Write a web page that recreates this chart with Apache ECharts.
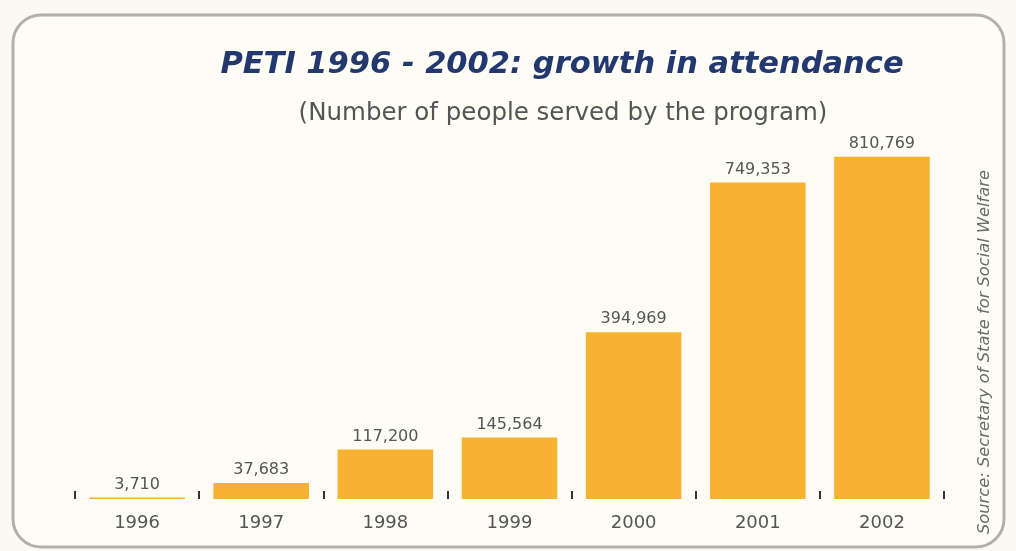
<!DOCTYPE html>
<html>
<head>
<meta charset="utf-8">
<script src="https://cdn.jsdelivr.net/npm/echarts@6/dist/echarts.min.js"></script>
<style>
html,body{margin:0;padding:0;background:#fbfaf2;}
#chart{width:1016px;height:551px;}
</style>
</head>
<body>
<div id="chart"></div>
<script>
const years = ['1996','1997','1998','1999','2000','2001','2002'];
const attendance = [3710, 37683, 117200, 145564, 394969, 749353, 810769];
const titleText = 'PETI 1996 - 2002: growth in attendance';
const subtitleText = '(Number of people served by the program)';
const sourceText = 'Source: Secretary of State for Social Welfare';

const FONT = 'DejaVu Sans';
const chart = echarts.init(document.getElementById('chart'));
chart.setOption({
  backgroundColor: '#fbfaf2',
  animation: false,
  title: [
    {text: titleText, left: 557, top: 45, textAlign: 'center',
     textStyle: {fontFamily: FONT, fontStyle: 'italic', fontWeight: 'bold', fontSize: 30.5, color: '#22386f'}},
    {text: subtitleText, left: 558, top: 96, textAlign: 'center',
     textStyle: {fontFamily: FONT, fontWeight: 'normal', fontSize: 24.5, color: '#555555'}}
  ],
  graphic: [
    {type: 'rect', shape: {x: 13, y: 15, width: 991, height: 532, r: 28}, silent: true, z: -1,
     style: {fill: '#fdfcf5', stroke: '#b3b0aa', lineWidth: 3}},
    {type: 'text', x: 985, y: 352, rotation: Math.PI / 2, silent: true,
     style: {text: sourceText, fontFamily: FONT, fontStyle: 'italic', fontSize: 16.3, fill: '#6a6a6a', align: 'center', verticalAlign: 'middle'}}
  ],
  grid: {left: 75, right: 72, top: 119, bottom: 52},
  xAxis: {
    type: 'category', data: years,
    axisLine: {show: false},
    axisTick: {show: true, inside: true, length: 8, lineStyle: {color: '#333', width: 2}},
    axisLabel: {margin: 15, fontFamily: FONT, fontSize: 18, color: '#555555'}
  },
  yAxis: {type: 'value', min: 0, max: 900000, show: false, splitLine: {show: false}},
  series: [{
    type: 'bar', data: attendance, barCategoryGap: '23%',
    itemStyle: {color: '#f7b232'},
    label: {show: true, position: 'top', distance: 5, fontFamily: FONT, fontSize: 16, color: '#555555',
      formatter: p => p.value.toLocaleString('en-US')}
  }]
});
</script>
</body>
</html>
